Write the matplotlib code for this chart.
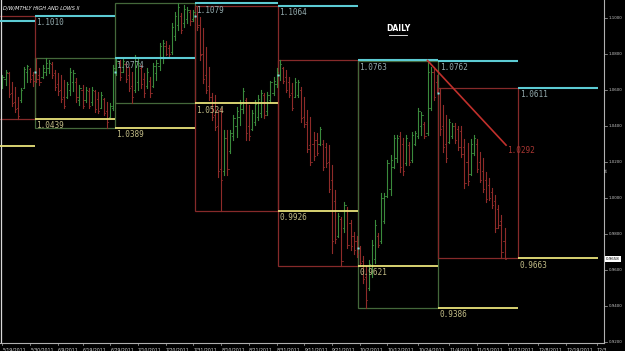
import matplotlib
matplotlib.use("Agg")
import matplotlib.pyplot as plt
from matplotlib.patches import Rectangle
from matplotlib.transforms import blended_transform_factory

# daily bars (open, high, low, close), 5/19/2011 .. 11/25/2011, one bar per trading day incl. sundays
may_o = [1.0625, 1.0660, 1.0690, 1.0580, 1.0530, 1.0500, 1.0540, 1.0610, 1.0700, 1.0715, 1.0680]
may_h = [1.0682, 1.0709, 1.0698, 1.0640, 1.0615, 1.0560, 1.0609, 1.0726, 1.0737, 1.0720, 1.0700]
may_l = [1.0609, 1.0626, 1.0560, 1.0510, 1.0476, 1.0439, 1.0532, 1.0609, 1.0643, 1.0643, 1.0620]
may_c = [1.0670, 1.0700, 1.0575, 1.0525, 1.0490, 1.0455, 1.0600, 1.0715, 1.0730, 1.0660, 1.0650]

jun_o = [1.0700, 1.0680, 1.0670, 1.0700, 1.0720, 1.0740, 1.0690, 1.0630, 1.0600, 1.0560, 1.0560, 1.0600, 1.0640,
         1.0640, 1.0540, 1.0600, 1.0540, 1.0590, 1.0530, 1.0590, 1.0550, 1.0500, 1.0550, 1.0480, 1.0450, 1.0500]
jun_h = [1.0774, 1.0720, 1.0737, 1.0774, 1.0765, 1.0754, 1.0709, 1.0690, 1.0682, 1.0654, 1.0643, 1.0720, 1.0709,
         1.0665, 1.0626, 1.0626, 1.0615, 1.0609, 1.0615, 1.0598, 1.0587, 1.0587, 1.0554, 1.0532, 1.0526, 1.0737]
jun_l = [1.0643, 1.0626, 1.0665, 1.0682, 1.0690, 1.0665, 1.0600, 1.0571, 1.0532, 1.0498, 1.0554, 1.0571, 1.0590,
         1.0532, 1.0515, 1.0498, 1.0532, 1.0498, 1.0515, 1.0476, 1.0470, 1.0498, 1.0459, 1.0389, 1.0448, 1.0487]
jun_c = [1.0660, 1.0640, 1.0720, 1.0750, 1.0750, 1.0680, 1.0615, 1.0590, 1.0550, 1.0510, 1.0630, 1.0700, 1.0690,
         1.0560, 1.0610, 1.0510, 1.0600, 1.0510, 1.0600, 1.0490, 1.0480, 1.0570, 1.0470, 1.0420, 1.0510, 1.0720]

jul_o = [1.0700, 1.0750, 1.0700, 1.0740, 1.0680, 1.0620, 1.0600, 1.0640, 1.0720, 1.0660, 1.0620, 1.0650, 1.0620,
         1.0690, 1.0730, 1.0780, 1.0840, 1.0830, 1.0810, 1.0900, 1.0960, 1.1010, 1.0970, 1.0990, 1.1030, 1.0990]
jul_h = [1.0776, 1.0765, 1.0774, 1.0754, 1.0726, 1.0700, 1.0793, 1.0776, 1.0737, 1.0693, 1.0720, 1.0670, 1.0748,
         1.0765, 1.0859, 1.0876, 1.0870, 1.0848, 1.0971, 1.1032, 1.1079, 1.1026, 1.1070, 1.1060, 1.1045, 1.1043]
jul_l = [1.0682, 1.0654, 1.0698, 1.0643, 1.0590, 1.0524, 1.0587, 1.0598, 1.0609, 1.0559, 1.0609, 1.0559, 1.0615,
         1.0654, 1.0709, 1.0748, 1.0793, 1.0780, 1.0800, 1.0876, 1.0932, 1.0915, 1.0950, 1.0971, 1.0960, 1.0980]
jul_c = [1.0760, 1.0670, 1.0760, 1.0660, 1.0610, 1.0560, 1.0760, 1.0750, 1.0630, 1.0580, 1.0700, 1.0580, 1.0730,
         1.0750, 1.0840, 1.0860, 1.0800, 1.0800, 1.0950, 1.1010, 1.1060, 1.0930, 1.1050, 1.1040, 1.0980, 1.1030]

aug_o = [1.1010, 1.0960, 1.0800, 1.0680, 1.0620, 1.0560, 1.0460, 1.0400, 1.0160, 1.0150, 1.0330, 1.0260, 1.0340,
         1.0400, 1.0450, 1.0490, 1.0540, 1.0400, 1.0380, 1.0420, 1.0450, 1.0470, 1.0570, 1.0480, 1.0540, 1.0580, 1.0630]
aug_h = [1.1064, 1.1004, 1.0943, 1.0837, 1.0726, 1.0582, 1.0571, 1.0487, 1.0500, 1.0376, 1.0376, 1.0376, 1.0459,
         1.0504, 1.0543, 1.0609, 1.0554, 1.0515, 1.0487, 1.0543, 1.0571, 1.0598, 1.0580, 1.0587, 1.0650, 1.0670, 1.0720]
aug_l = [1.0932, 1.0765, 1.0637, 1.0582, 1.0543, 1.0432, 1.0376, 1.0115, 0.9926, 1.0126, 1.0126, 1.0248, 1.0321,
         1.0337, 1.0404, 1.0470, 1.0321, 1.0321, 1.0376, 1.0404, 1.0432, 1.0448, 1.0440, 1.0459, 1.0530, 1.0571, 1.0615]
aug_c = [1.0950, 1.0790, 1.0660, 1.0600, 1.0560, 1.0450, 1.0390, 1.0150, 1.0100, 1.0330, 1.0160, 1.0360, 1.0440,
         1.0480, 1.0520, 1.0590, 1.0360, 1.0340, 1.0470, 1.0520, 1.0550, 1.0580, 1.0460, 1.0570, 1.0640, 1.0650, 1.0700]

sep_o = [1.0680, 1.0720, 1.0670, 1.0640, 1.0580, 1.0560, 1.0570, 1.0600, 1.0450, 1.0420, 1.0290, 1.0300, 1.0320,
         1.0300, 1.0300, 1.0280, 1.0200, 1.0100, 0.9980, 0.9790, 0.9880, 0.9830, 0.9930, 0.9860, 0.9790, 0.9760]
sep_h = [1.0763, 1.0726, 1.0709, 1.0670, 1.0637, 1.0665, 1.0654, 1.0615, 1.0559, 1.0487, 1.0448, 1.0365, 1.0359,
         1.0393, 1.0321, 1.0304, 1.0293, 1.0182, 1.0043, 0.9915, 0.9893, 0.9976, 0.9948, 0.9876, 0.9810, 0.9787]
sep_l = [1.0654, 1.0637, 1.0587, 1.0559, 1.0487, 1.0559, 1.0559, 1.0421, 1.0393, 1.0254, 1.0182, 1.0209, 1.0237,
         1.0293, 1.0154, 1.0170, 1.0032, 0.9693, 0.9748, 0.9782, 0.9621, 0.9810, 0.9720, 0.9709, 0.9690, 0.9670]
sep_c = [1.0740, 1.0650, 1.0600, 1.0570, 1.0500, 1.0640, 1.0640, 1.0440, 1.0410, 1.0270, 1.0200, 1.0230, 1.0250,
         1.0380, 1.0170, 1.0190, 1.0050, 0.9760, 0.9770, 0.9900, 0.9650, 0.9960, 0.9740, 0.9730, 0.9710, 0.9690]

oct_o = [0.9720, 0.9650, 0.9560, 0.9500, 0.9580, 0.9660, 0.9790, 0.9760, 0.9870, 1.0010, 1.0050, 1.0170, 1.0220,
         1.0340, 1.0300, 1.0190, 1.0290, 1.0210, 1.0300, 1.0340, 1.0400, 1.0410, 1.0360, 1.0500, 1.0700, 1.0640]
oct_h = [0.9732, 0.9676, 0.9621, 0.9654, 0.9765, 0.9876, 0.9804, 1.0026, 1.0026, 1.0209, 1.0237, 1.0348, 1.0348,
         1.0365, 1.0332, 1.0348, 1.0309, 1.0365, 1.0370, 1.0498, 1.0476, 1.0421, 1.0762, 1.0726, 1.0726, 1.0682]
oct_l = [0.9621, 0.9526, 0.9386, 0.9487, 0.9560, 0.9637, 0.9726, 0.9748, 0.9859, 1.0004, 1.0015, 1.0165, 1.0198,
         1.0143, 1.0126, 1.0182, 1.0182, 1.0198, 1.0290, 1.0332, 1.0348, 1.0332, 1.0348, 1.0487, 1.0543, 1.0587]
oct_c = [0.9640, 0.9550, 0.9430, 0.9630, 0.9740, 0.9850, 0.9740, 1.0000, 1.0010, 1.0190, 1.0210, 1.0330, 1.0330,
         1.0170, 1.0150, 1.0330, 1.0200, 1.0350, 1.0360, 1.0480, 1.0460, 1.0340, 1.0700, 1.0700, 1.0560, 1.0600]

nov_o = [1.0580, 1.0400, 1.0300, 1.0310, 1.0340, 1.0400, 1.0380, 1.0370, 1.0280, 1.0200, 1.0130,
         1.0250, 1.0300, 1.0200, 1.0150, 1.0100, 1.0070, 1.0030, 0.9980, 0.9940, 0.9870, 0.9760]
nov_h = [1.0611, 1.0515, 1.0459, 1.0437, 1.0415, 1.0415, 1.0398, 1.0398, 1.0326, 1.0304, 1.0326,
         1.0348, 1.0326, 1.0254, 1.0220, 1.0143, 1.0110, 1.0054, 1.0015, 0.9959, 0.9904, 0.9832]
nov_l = [1.0348, 1.0254, 1.0198, 1.0304, 1.0332, 1.0304, 1.0265, 1.0226, 1.0054, 1.0071, 1.0126,
         1.0237, 1.0143, 1.0087, 1.0032, 0.9976, 0.9987, 0.9943, 0.9810, 0.9832, 0.9663, 0.9665]
nov_c = [1.0380, 1.0280, 1.0220, 1.0420, 1.0400, 1.0320, 1.0280, 1.0240, 1.0080, 1.0090, 1.0300,
         1.0330, 1.0160, 1.0100, 1.0050, 0.9990, 1.0000, 0.9960, 0.9830, 0.9850, 0.9700, 0.9658]

opens = may_o + jun_o + jul_o + aug_o + sep_o + oct_o + nov_o
highs = may_h + jun_h + jul_h + aug_h + sep_h + oct_h + nov_h
lows = may_l + jun_l + jul_l + aug_l + sep_l + oct_l + nov_l
closes = may_c + jun_c + jul_c + aug_c + sep_c + oct_c + nov_c

# monthly ranges (may .. nov), first bar index of each month (+ december, + january)
month_start = [-16, 11, 37, 63, 90, 116, 142, 168, 194]
month_high = [1.1010, 1.0774, 1.1079, 1.1064, 1.0763, 1.0762, 1.0611]
month_low = [1.0439, 1.0389, 1.0524, 0.9926, 0.9621, 0.9386, 0.9663]
month_up = [False, True, True, False, False, True, False]
april_high, april_low = 1.0982, 1.0287

trend_x = [138, 163.5]
trend_y = [1.0762, 1.0292]

date_pos = [0, 9, 18, 26, 35, 44, 53, 62, 71, 80, 89, 98, 107, 116, 125, 135, 145, 154, 164, 174, 183, 193]
date_lbl = ["5/19/2011", "5/30/2011", "6/9/2011", "6/19/2011", "6/29/2011", "7/10/2011", "7/20/2011",
            "7/31/2011", "8/10/2011", "8/21/2011", "8/31/2011", "9/11/2011", "9/21/2011", "10/2/2011",
            "10/12/2011", "10/24/2011", "11/4/2011", "11/15/2011", "11/27/2011", "12/8/2011",
            "12/19/2011", "12/30/2011"]
price_ticks = [1.10, 1.08, 1.06, 1.04, 1.02, 1.00, 0.98, 0.96, 0.94, 0.92]

GREEN = "#3a8a3c"
RED = "#8f2b29"
BOX_G = "#44683a"
BOX_R = "#862a2a"
CYAN = "#5ccbd3"
YELLOW = "#e9e27a"

fig = plt.figure(figsize=(6.25, 3.51), dpi=100, facecolor="black")
ax = fig.add_axes([0, 8 / 351, 604 / 625, 343 / 351])
ax.set_facecolor("black")
ax.set_xlim(-0.81, 195.3)
ax.set_ylim(0.91928, 1.10983)

# month boxes
for k in range(len(month_high)):
    x0 = month_start[k] - 0.5
    w = month_start[k + 1] - month_start[k]
    ax.add_patch(Rectangle((x0, month_low[k]), w, month_high[k] - month_low[k], fill=False,
                           ec=BOX_G if month_up[k] else BOX_R, lw=0.9, zorder=1))

# previous month high / low carried over the next month
prev_hi = [april_high] + month_high
prev_lo = [april_low] + month_low
for k in range(len(prev_hi)):
    xa = month_start[k] - 0.5
    xb = month_start[k + 1] - 0.5
    ax.plot([xa, xb], [prev_hi[k]] * 2, color=CYAN, lw=1.5, zorder=3, solid_capstyle="butt")
    ax.plot([xa, xb], [prev_lo[k]] * 2, color=YELLOW, lw=1.3, zorder=3, solid_capstyle="butt")
    if k > 0:
        ax.text(xa + 0.4, prev_hi[k] - 0.0012, f"{prev_hi[k]:.4f}", color="#93aaad", fontsize=5.6,
                family="DejaVu Sans Mono", va="top", ha="left", zorder=4)
        ax.text(xa + 0.4, prev_lo[k] - 0.0012, f"{prev_lo[k]:.4f}", color="#c2bc86", fontsize=5.6,
                family="DejaVu Sans Mono", va="top", ha="left", zorder=4)

# ohlc bars
for i in range(len(opens)):
    c = GREEN if closes[i] >= opens[i] else RED
    ax.plot([i, i], [lows[i], highs[i]], color=c, lw=0.8, zorder=2)
    ax.plot([i - 0.4, i], [opens[i]] * 2, color=c, lw=0.6, zorder=2)
    ax.plot([i, i + 0.4], [closes[i]] * 2, color=c, lw=0.6, zorder=2)

# monthly open markers
for k in range(1, 7):
    s = month_start[k]
    ax.plot(s - 0.5, opens[s], marker="s", ms=1.6, color="#7fe0e0", mec="none", zorder=5)

# trend line
ax.plot(trend_x, trend_y, color="#c0302c", lw=1.2, zorder=4)
ax.text(trend_x[1] + 0.3, trend_y[1] - 0.0005, f"{trend_y[1]:.4f}", color="#a83632", fontsize=5.6,
        family="DejaVu Sans Mono", va="top", ha="left")

ax.axvline(-0.4, color="#d8d8d8", lw=0.9)

ax.text(0.005, 0.985, "D/W/MTHLY HIGH AND LOWS II", transform=ax.transAxes, color="white",
        fontsize=3.6, style="italic", va="top", ha="left")
ax.text(0.659, 0.918, "DAILY", transform=ax.transAxes, color="white", fontsize=5.5,
        weight="bold", ha="center", va="center")
ax.plot([0.644, 0.674], [0.898, 0.898], transform=ax.transAxes, color="white", lw=0.6)

# axes decorations
for s in ["top", "left"]:
    ax.spines[s].set_visible(False)
ax.spines["right"].set_color("#b0b0b0")
ax.spines["bottom"].set_color("#b0b0b0")
ax.spines["right"].set_linewidth(0.8)
ax.spines["bottom"].set_linewidth(0.8)
ax.set_xticks([])
ax.set_yticks([])

tr = blended_transform_factory(ax.transAxes, ax.transData)
for p in price_ticks:
    ax.plot([1.0, 1.005], [p, p], transform=tr, color="#b0b0b0", lw=0.5, clip_on=False)
    ax.text(1.0075, p, f"{p:.4f}", transform=tr, color="#c8c8c8", fontsize=2.9, va="center",
            ha="left", clip_on=False)

last = closes[-1]
ax.text(1.003, last, f"{last:.4f}", transform=tr, color="black", fontsize=2.9, va="center",
        ha="left", clip_on=False, bbox=dict(boxstyle="square,pad=0.25", fc="white", ec="none"))
ax.text(1.001, 1.0150, "M", transform=tr, color="#d0d0d0", fontsize=3.0, rotation=90,
        va="center", ha="left", clip_on=False)

trx = blended_transform_factory(ax.transData, ax.transAxes)
for pos, lbl in zip(date_pos, date_lbl):
    ax.plot([pos, pos], [0, -0.006], transform=trx, color="#b0b0b0", lw=0.5, clip_on=False)
    txt = lbl if pos < 193 else lbl[:4]
    ax.text(pos, -0.012, txt, transform=trx, color="#d8d8d8", fontsize=3.3, va="top",
            ha="left", clip_on=False)

fig.savefig("out.png", dpi=100, facecolor="black")
